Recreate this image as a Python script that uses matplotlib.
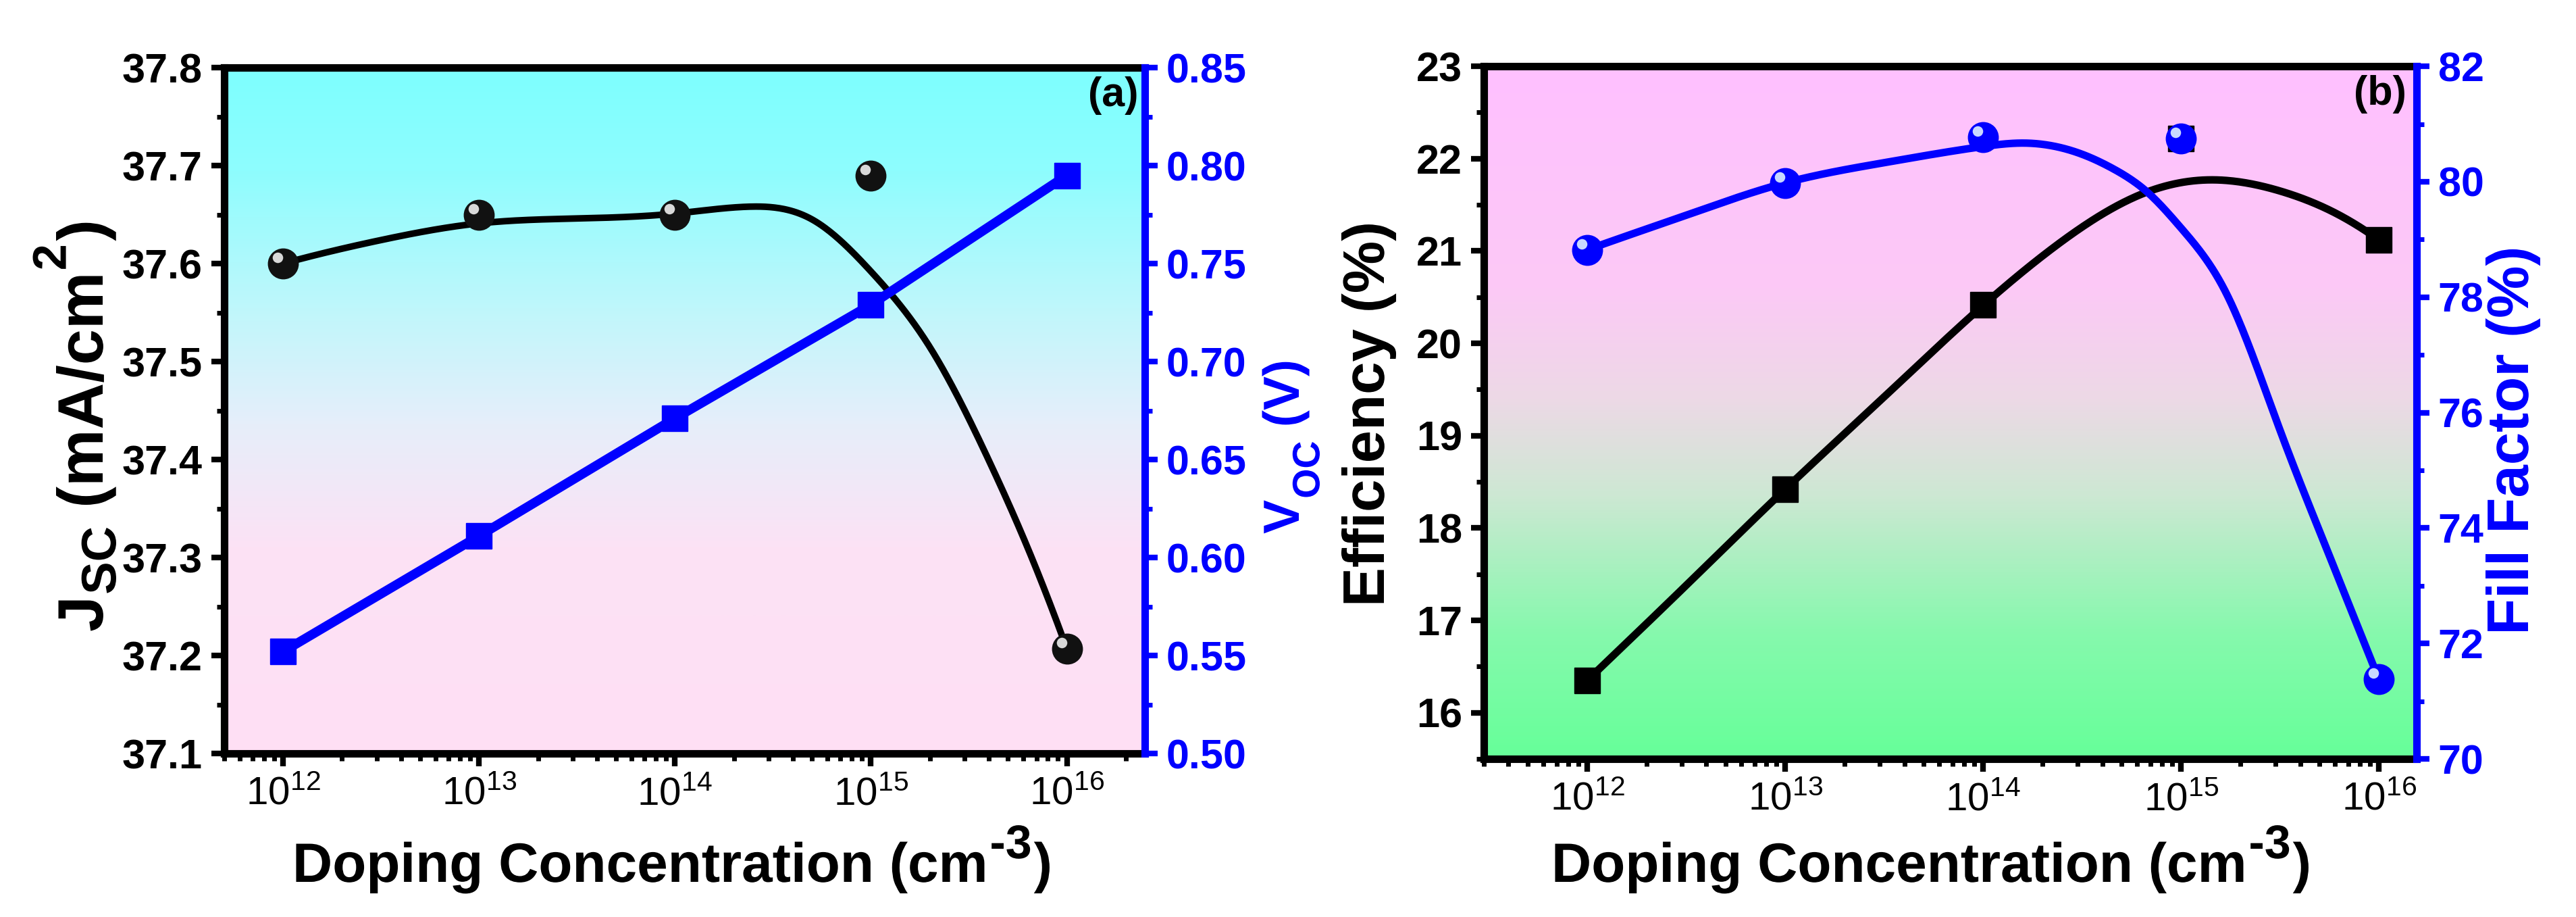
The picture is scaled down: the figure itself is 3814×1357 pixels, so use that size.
import numpy as np
import matplotlib
matplotlib.use('Agg')
import matplotlib.pyplot as plt
import matplotlib.transforms as mtransforms
from matplotlib.colors import LinearSegmentedColormap
from matplotlib.ticker import FixedLocator, LogLocator, MultipleLocator, FormatStrFormatter, NullFormatter
from matplotlib.textpath import TextPath, TextToPath
from matplotlib.font_manager import FontProperties
from matplotlib.patches import PathPatch

plt.rcParams['font.family'] = ['Liberation Sans', 'DejaVu Sans']
plt.rcParams['mathtext.fontset'] = 'custom'
plt.rcParams['mathtext.rm'] = 'Liberation Sans'
plt.rcParams['mathtext.it'] = 'Liberation Sans'
plt.rcParams['mathtext.bf'] = 'Liberation Sans:bold'

# ---- data ----
doping = [1e12, 1e13, 1e14, 1e15, 1e16]
xtick_labels = ['$10^{12}$', '$10^{13}$', '$10^{14}$', '$10^{15}$', '$10^{16}$']

jsc = [37.600, 37.650, 37.650, 37.690, 37.207]
voc = [0.552, 0.611, 0.671, 0.729, 0.795]
eff = [16.35, 18.42, 20.42, 22.22, 21.12]
ff = [78.82, 79.98, 80.77, 80.75, 71.38]

# fitted curves as drawn in the figure (log10 doping, value)
jsc_fit_logx = [12.0, 12.5, 13.0, 13.5, 14.0, 14.37, 14.70, 15.0, 15.3, 15.6, 15.8, 16.0]
jsc_fit = [37.600, 37.624, 37.641, 37.646, 37.651, 37.658, 37.645, 37.592, 37.515, 37.400, 37.310, 37.207]

eff_fit_logx = [12.0, 12.5, 13.0, 13.5, 14.0, 14.37, 14.66, 14.83, 15.14, 15.5, 15.79, 16.0]
eff_fit = [16.35, 17.38, 18.42, 19.42, 20.41, 21.06, 21.47, 21.64, 21.77, 21.65, 21.40, 21.12]

ff_fit_logx = [12.0, 12.5, 13.0, 13.5, 14.0, 14.2, 14.52, 14.66, 14.83, 15.0, 15.23, 15.5, 15.75, 16.0]
ff_fit = [78.82, 79.42, 79.98, 80.33, 80.61, 80.67, 80.45, 80.22, 79.82, 79.20, 78.06, 75.70, 73.52, 71.38]


def end_slope(x, y):
    # slope at x[0] of the parabola through the first three points
    x0, x1, x2 = x[:3]
    y0, y1, y2 = y[:3]
    return (y0 * (2 * x0 - x1 - x2) / ((x0 - x1) * (x0 - x2))
            + y1 * (x0 - x2) / ((x1 - x0) * (x1 - x2))
            + y2 * (x0 - x1) / ((x2 - x0) * (x2 - x1)))


def spline(logx, y, n=500):
    # clamped cubic spline through the read points (for drawing the smooth line)
    x = np.asarray(logx, float)
    y = np.asarray(y, float)
    k = len(x)
    h = np.diff(x)
    s0 = end_slope(x, y)
    sn = end_slope(x[::-1], y[::-1])
    A = np.zeros((k, k))
    b = np.zeros(k)
    A[0, 0], A[0, 1] = 2 * h[0], h[0]
    b[0] = 3 * ((y[1] - y[0]) / h[0] - s0)
    A[-1, -2], A[-1, -1] = h[-1], 2 * h[-1]
    b[-1] = 3 * (sn - (y[-1] - y[-2]) / h[-1])
    for i in range(1, k - 1):
        A[i, i - 1] = h[i - 1]
        A[i, i] = 2 * (h[i - 1] + h[i])
        A[i, i + 1] = h[i]
        b[i] = 3 * ((y[i + 1] - y[i]) / h[i] - (y[i] - y[i - 1]) / h[i - 1])
    c = np.linalg.solve(A, b)
    bb = (y[1:] - y[:-1]) / h - h * (2 * c[:-1] + c[1:]) / 3
    d = (c[1:] - c[:-1]) / (3 * h)
    xs = np.linspace(x[0], x[-1], n)
    i = np.clip(np.searchsorted(x, xs) - 1, 0, k - 2)
    dx = xs - x[i]
    return 10 ** xs, y[i] + bb[i] * dx + c[i] * dx ** 2 + d[i] * dx ** 3


def sphere(ax, x, y, color, hl, size):
    ax.plot(x, y, 'o', ms=size, color=color, zorder=6)
    off = mtransforms.offset_copy(ax.transData, fig=ax.figure, x=-size * 0.18, y=size * 0.2, units='points')
    ax.plot(x, y, 'o', ms=size * 0.35, color=hl, mec='none', transform=off, zorder=7)


def gradient_bg(fig, rect, stops):
    bg = fig.add_axes(rect, zorder=-5)
    cmap = LinearSegmentedColormap.from_list('bg', stops)
    grad = np.linspace(0, 1, 512)[:, None]
    bg.imshow(grad, aspect='auto', cmap=cmap, origin='lower', extent=[0, 1, 0, 1])
    bg.set_axis_off()


def path_label(fig, pieces, x, y, color, rotate=False, length=None, align='center'):
    # text built from pieces (text, size px, rise px, gap px) so sub/superscripts can be sized freely
    t2p = TextToPath()
    widths = []
    for s, size, rise, gap in pieces:
        fp = FontProperties(family='Liberation Sans', weight='bold', size=size)
        widths.append(t2p.get_text_width_height_descent(s, fp, ismath=False)[0])
    natural = sum(widths) + sum(p[3] for p in pieces)
    k = 1.0 if length is None else length / natural
    pos = -natural * k / 2 if align == 'center' else 0.0
    for (s, size, rise, gap), w in zip(pieces, widths):
        pos += gap * k
        fp = FontProperties(family='Liberation Sans', weight='bold', size=size * k)
        tp = TextPath((0, 0), s, prop=fp)
        tr = mtransforms.Affine2D().translate(pos, rise * k)
        if rotate:
            tr.rotate_deg(90)
        tr.translate(x, y)
        fig.add_artist(PathPatch(tr.transform_path(tp), facecolor=color, edgecolor='none',
                                 transform=mtransforms.IdentityTransform()))
        pos += w * k


def style_axes(ax, twin, xlim):
    ax.set_facecolor('none')
    ax.set_xscale('log')
    ax.set_xlim(*xlim)
    ax.xaxis.set_major_locator(FixedLocator(doping))
    ax.set_xticklabels(xtick_labels)
    ax.xaxis.set_minor_locator(LogLocator(base=10, subs=np.arange(2, 10), numticks=50))
    ax.xaxis.set_minor_formatter(NullFormatter())
    ax.tick_params(axis='both', which='major', direction='out', length=14, width=6, pad=9)
    ax.tick_params(axis='both', which='minor', direction='out', length=8, width=5)
    ax.tick_params(axis='x', labelsize=42, pad=10)
    ax.tick_params(axis='y', labelsize=44)
    for lab in ax.get_yticklabels():
        lab.set_fontweight('bold')
    for s in ['left', 'top', 'bottom']:
        ax.spines[s].set_linewidth(8)
    ax.spines['right'].set_visible(False)
    for s in ['left', 'top', 'bottom']:
        twin.spines[s].set_visible(False)
    twin.spines['right'].set_color('blue')
    twin.spines['right'].set_linewidth(8)
    twin.tick_params(axis='y', which='major', direction='out', length=14, width=6, pad=9,
                     colors='blue', labelsize=44)
    twin.tick_params(axis='y', which='minor', direction='out', length=8, width=5, colors='blue')
    for lab in twin.get_yticklabels():
        lab.set_fontweight('bold')


W, H = 3814, 1357
fig = plt.figure(figsize=(W / 100, H / 100), dpi=100)

# ---------------- (a) ----------------
rect_a = [0.0870, 0.1783, 0.3574, 0.7480]
gradient_bg(fig, rect_a, [(0.0, '#FFDFF4'), (0.30, '#FCE2F5'), (0.48, '#E6EEFA'),
                          (0.65, '#BFF7FB'), (0.85, '#8EFDFE'), (1.0, '#7DFFFF')])
ax1 = fig.add_axes(rect_a)
ax1b = ax1.twinx()

fx, fy = spline(jsc_fit_logx, jsc_fit)
ax1.plot(fx, fy, color='black', lw=7, zorder=4)
sphere(ax1, doping, jsc, '#111111', '#d8d8d8', 32)
ax1b.plot(doping, voc, '-s', color='blue', lw=10, ms=27, zorder=5)

ax1.set_ylim(37.1, 37.8)
ax1.yaxis.set_major_locator(MultipleLocator(0.1))
ax1.yaxis.set_minor_locator(MultipleLocator(0.05))
ax1.yaxis.set_major_formatter(FormatStrFormatter('%.1f'))
ax1b.set_ylim(0.50, 0.85)
ax1b.yaxis.set_major_locator(MultipleLocator(0.05))
ax1b.yaxis.set_minor_locator(MultipleLocator(0.025))
ax1b.yaxis.set_major_formatter(FormatStrFormatter('%.2f'))
style_axes(ax1, ax1b, (5e11, 2.5e16))
ax1.text(0.993, 0.987, '(a)', transform=ax1.transAxes, ha='right', va='top',
         fontsize=44, fontweight='bold')

# ---------------- (b) ----------------
rect_b = [0.5760, 0.1724, 0.3621, 0.7553]
gradient_bg(fig, rect_b, [(0.0, '#66FF99'), (0.18, '#86F9AD'), (0.38, '#CDE8D3'),
                          (0.52, '#EDD9E6'), (0.68, '#FCC9F6'), (1.0, '#FFC0FF')])
ax2 = fig.add_axes(rect_b)
ax2b = ax2.twinx()

fx, fy = spline(eff_fit_logx, eff_fit)
ax2.plot(fx, fy, color='black', lw=8, zorder=4)
ax2.plot(doping, eff, 's', color='black', ms=27, zorder=5)
fx, fy = spline(ff_fit_logx, ff_fit)
ax2b.plot(fx, fy, color='blue', lw=8, zorder=4)
sphere(ax2b, doping, ff, 'blue', '#c8d8ff', 32)

ax2.set_ylim(15.5, 23)
ax2.yaxis.set_major_locator(MultipleLocator(1))
ax2.yaxis.set_minor_locator(MultipleLocator(0.5))
ax2b.set_ylim(70, 82)
ax2b.yaxis.set_major_locator(MultipleLocator(2))
ax2b.yaxis.set_minor_locator(MultipleLocator(1))
style_axes(ax2, ax2b, (3e11, 1.55e16))
ax2.text(0.989, 0.987, '(b)', transform=ax2.transAxes, ha='right', va='top',
         fontsize=44, fontweight='bold')

# ---------------- axis titles (pixel positions) ----------------
xlab = [('Doping Concentration (cm', 82, 0, 0), ('-3', 70, 35, 3), (')', 82, 0, 3)]
path_label(fig, xlab, 433, H - 1305, 'black', align='left')
path_label(fig, xlab, 2297, H - 1305, 'black', align='left')

path_label(fig, [('J', 84, 0, 0), ('SC', 64, -17, 2), ('(mA/cm', 84, 0, 24), ('2', 62, 48, 2),
                 (')', 84, 0, 4)], 152, H - 630, 'black', rotate=True, length=610)
path_label(fig, [('V', 74, 0, 0), ('OC', 56, -30, 2), ('(V)', 74, 0, 20)],
           1923, H - 661, 'blue', rotate=True, length=258)
path_label(fig, [('Efficiency', 87, 0, 0), ('(%)', 87, 0, 24)], 2049, H - 613, 'black', rotate=True)
path_label(fig, [('Fill', 87, 0, 0), ('Factor', 87, 0, 24), ('(%)', 87, 0, 24)],
           3743, H - 652, 'blue', rotate=True)

fig.savefig('out.png', dpi=100)
